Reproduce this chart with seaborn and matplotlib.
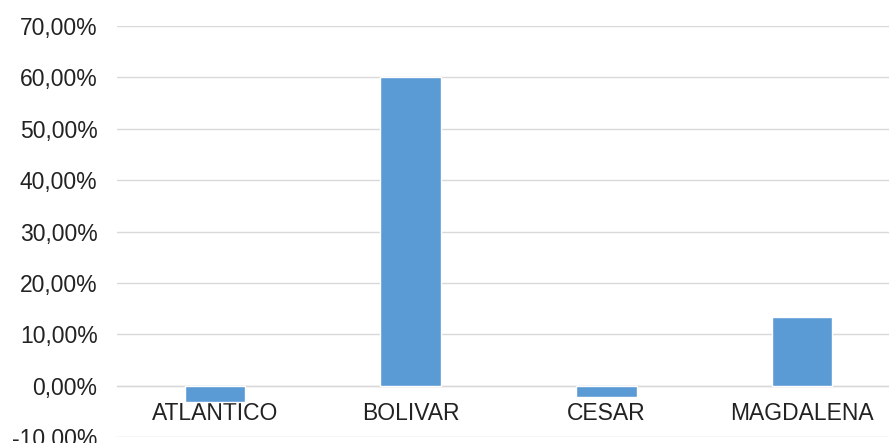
import matplotlib
matplotlib.use("Agg")
import matplotlib.pyplot as plt
import seaborn as sns
import pandas as pd
from matplotlib.ticker import FuncFormatter, MultipleLocator

categories = ["ATLÁNTICO", "BOLIVAR", "CESAR", "MAGDALENA"]
values = [-3.1, 60.0, -2.2, 13.4]

df = pd.DataFrame({"cat": categories, "val": values})

sns.set_style("white")
plt.rcParams["font.family"] = ["Liberation Sans", "DejaVu Sans"]

fig = plt.figure(figsize=(8.89, 4.43), dpi=100)
ax = fig.add_axes([0.1316, 0.0135, 0.8808, 0.9278])

sns.barplot(data=df, x="cat", y="val", color="#5b9bd5", saturation=1,
            width=0.31, ax=ax, zorder=3)

ax.set_ylim(-10, 70)
ax.set_xlim(-0.5, 3.5)
ax.yaxis.set_major_locator(MultipleLocator(10))
ax.yaxis.set_major_formatter(FuncFormatter(lambda v, p: f"{v:.2f}".replace(".", ",") + "%"))
ax.grid(axis="y", color="#d9d9d9", linewidth=1.0, zorder=0)
ax.set_axisbelow(True)

for s in ["top", "right", "left"]:
    ax.spines[s].set_visible(False)
ax.spines["bottom"].set_position(("data", 0))
ax.spines["bottom"].set_color("#d9d9d9")
ax.spines["bottom"].set_linewidth(1.0)
ax.spines["bottom"].set_zorder(1)

ax.tick_params(axis="y", length=0, pad=14, labelsize=16.5, labelcolor="#222222")
ax.tick_params(axis="x", length=0, pad=12, labelsize=16.5, labelcolor="#222222")
ax.set_xlabel("")
ax.set_ylabel("")

fig.savefig("out.png", dpi=100)
